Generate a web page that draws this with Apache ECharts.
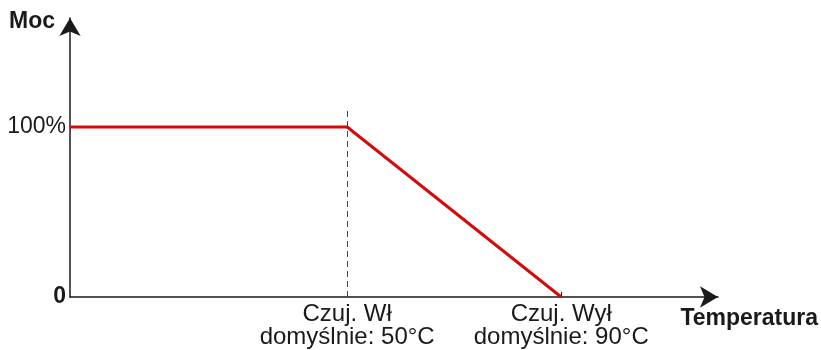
<!DOCTYPE html>
<html>
<head>
<meta charset="utf-8">
<script src="https://cdn.jsdelivr.net/npm/echarts@6/dist/echarts.min.js"></script>
<style>
  html, body { margin: 0; padding: 0; background: #fff; }
  #chart { width: 821px; height: 350px; }
</style>
</head>
<body>
<div id="chart"></div>
<script>
  // temperature points of the power curve
  const temps = [-1.8, 50, 90]
  const power = [100, 100, 0]
  // labelled positions on the temperature axis
  const tempTicks = [50, 90]
  const tempLabels = ['Czuj. Wł\ndomyślnie: 50°C', 'Czuj. Wył\ndomyślnie: 90°C']
  const powerTicks = [0, 100]
  const dashTop = 111

  const font = "'Liberation Sans', Arial, sans-serif"
  const chart = echarts.init(document.getElementById('chart'))

  chart.setOption({
    animation: false,
    grid: { left: 70, right: 103, top: 18, bottom: 53 },
    xAxis: {
      type: 'value',
      min: -1.8,
      max: 119.3,
      name: 'Temperatura',
      nameLocation: 'end',
      nameGap: 100,
      nameTextStyle: {
        fontFamily: font, fontSize: 23, fontWeight: 'bold', color: '#1a1a1a',
        align: 'right', verticalAlign: 'top', lineHeight: 44
      },
      axisLine: {
        onZero: false,
        symbol: ['none', 'arrow'],
        symbolSize: [16, 18],
        lineStyle: { color: '#1a1a1a', width: 1.5 }
      },
      axisTick: {
        show: true, inside: true, length: 5,
        customValues: [tempTicks[1]],
        lineStyle: { color: '#1a1a1a', width: 1 }
      },
      axisLabel: {
        customValues: tempTicks,
        margin: 6,
        fontFamily: font, fontSize: 24, lineHeight: 23, color: '#1a1a1a',
        verticalAlign: 'top',
        formatter: v => tempLabels[tempTicks.indexOf(v)] || ''
      },
      splitLine: { show: false }
    },
    yAxis: {
      type: 'value',
      min: 0,
      max: 164.1,
      name: 'Moc',
      nameLocation: 'end',
      nameGap: -4,
      nameTextStyle: {
        fontFamily: font, fontSize: 23, fontWeight: 'bold', color: '#1a1a1a',
        align: 'right', verticalAlign: 'middle', padding: [0, 15, 0, 0]
      },
      axisLine: {
        show: true,
        onZero: false,
        symbol: ['none', 'arrow'],
        symbolSize: [16, 18],
        lineStyle: { color: '#1a1a1a', width: 1.5 }
      },
      axisTick: { show: false },
      axisLabel: {
        customValues: powerTicks,
        margin: 4,
        fontFamily: font, fontSize: 23, color: '#1a1a1a',
        formatter: v => v === 0 ? '{b|0}' : v + '%',
        rich: { b: { fontFamily: font, fontSize: 23, fontWeight: 'bold', color: '#1a1a1a' } }
      },
      splitLine: { show: false }
    },
    series: [{
      type: 'line',
      data: temps.map((t, i) => [t, power[i]]),
      symbol: 'none',
      lineStyle: { color: '#d40b0b', width: 3 },
      markLine: {
        silent: true,
        symbol: 'none',
        label: { show: false },
        lineStyle: { color: '#444', width: 1, type: [6, 4] },
        data: [[{ coord: [tempTicks[0], 0] }, { coord: [tempTicks[0], dashTop] }]]
      },
      z: 3
    }]
  })
</script>
</body>
</html>
